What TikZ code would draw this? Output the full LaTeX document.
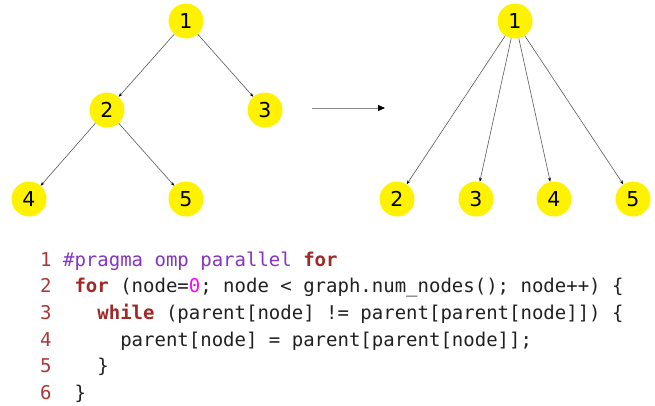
\documentclass[tikz,border=0pt]{standalone}
\usepackage{fontspec}
\setmainfont{DejaVu Sans}
\newfontfamily\codefont{DejaVu Sans Mono}
\usetikzlibrary{arrows.meta}
\definecolor{lnred}{HTML}{A83838}
\definecolor{kwred}{HTML}{A02828}
\definecolor{pragmac}{HTML}{8434C4}
\definecolor{numpink}{HTML}{FF00FF}
\definecolor{codetext}{HTML}{202020}
\begin{document}
\begin{tikzpicture}[x=1pt,y=-1pt,
  vert/.style={circle, fill=yellow, minimum size=35pt, inner sep=0pt,
    font=\fontsize{20.5}{20.5}\selectfont},
  treeedge/.style={draw=black!65, line width=0.6pt,
    -{Stealth[length=4pt,width=3pt,color=black]}},
  bigarrow/.style={draw=black!45, line width=0.8pt,
    -{Triangle[length=7pt,width=6pt,color=black]}},
  codeline/.style={anchor=base west, inner sep=0pt, text=codetext,
    font=\codefont\fontsize{19}{19}\selectfont}
]
\useasboundingbox (0,0) rectangle (655,405);
% left tree
\node[vert] (a1) at (186,21) {1};
\node[vert] (a2) at (107,110) {2};
\node[vert] (a3) at (265,110) {3};
\node[vert] (a4) at (29,199) {4};
\node[vert] (a5) at (186,199) {5};
\draw[treeedge] (a1) -- (a2);
\draw[treeedge] (a1) -- (a3);
\draw[treeedge] (a2) -- (a4);
\draw[treeedge] (a2) -- (a5);
% arrow
\coordinate (s) at (312,108);
\coordinate (t) at (385,108);
\draw[bigarrow] (s) -- (t);
% right tree
\node[vert] (b1) at (515,21) {1};
\node[vert] (b2) at (397,199) {2};
\node[vert] (b3) at (476,199) {3};
\node[vert] (b4) at (554,199) {4};
\node[vert] (b5) at (633,199) {5};
\draw[treeedge] (b1) -- (b2);
\draw[treeedge] (b1) -- (b3);
\draw[treeedge] (b1) -- (b4);
\draw[treeedge] (b1) -- (b5);
% code
\node[codeline] (l1) at (40,266) {\textcolor{lnred}{1}\ \textcolor{pragmac}{\#pragma\ omp\ parallel}\ \textcolor{kwred}{\bfseries for}};
\node[codeline] (l2) at (40,292.7) {\textcolor{lnred}{2}\ \ \textcolor{kwred}{\bfseries for}\ (node=\textcolor{numpink}{0};\ node\ <\ graph.num\_nodes();\ node++)\ \{};
\node[codeline] (l3) at (40,319.4) {\textcolor{lnred}{3}\ \ \ \ \textcolor{kwred}{\bfseries while}\ (parent[node]\ !=\ parent[parent[node]])\ \{};
\node[codeline] (l4) at (40,346.1) {\textcolor{lnred}{4}\ \ \ \ \ \ parent[node]\ =\ parent[parent[node]];};
\node[codeline] (l5) at (40,372.8) {\textcolor{lnred}{5}\ \ \ \ \}};
\node[codeline] (l6) at (40,399.5) {\textcolor{lnred}{6}\ \ \}};
\end{tikzpicture}
\end{document}
